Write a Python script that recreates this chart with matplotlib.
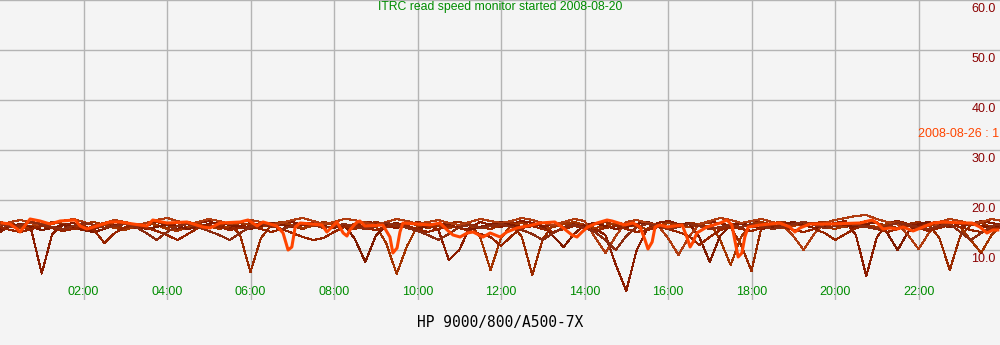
import numpy as np
import matplotlib.pyplot as plt

plt.rcParams['font.family'] = ['Liberation Sans', 'DejaVu Sans']

# 15 minute samples over one day, one series per day
hours = np.arange(0, 24.25, 0.25)

day1 = [13.6, 14.8, 15.2, 14.0, 5.3, 13.2, 15.0, 15.4, 14.6, 14.2, 15.0, 15.6,
        15.2, 14.4, 14.8, 15.6, 15.0, 14.2, 14.6, 15.4, 15.8, 15.0, 14.4, 14.8,
        15.4, 15.0, 14.6, 15.2, 15.6, 15.0, 14.8, 15.4, 15.2, 14.6, 15.0, 15.6,
        15.4, 14.8, 14.4, 15.0, 15.6, 15.2, 14.0, 8.0, 10.0, 14.5, 15.6, 15.0,
        14.6, 15.2, 15.8, 15.4, 14.8, 15.0, 15.6, 15.2, 14.6, 14.2, 13.0, 7.0,
        1.8, 10.0, 14.2, 15.4, 15.8, 15.2, 14.6, 15.0, 15.6, 15.4, 14.8, 15.2,
        15.8, 15.4, 15.0, 14.6, 15.2, 15.6, 15.2, 14.8, 15.4, 15.8, 13.0, 4.8,
        12.5, 15.4, 15.8, 15.2, 14.8, 15.4, 15.6, 15.0, 14.6, 15.2, 15.8, 15.4, 15.0]

day2 = [14.8, 15.4, 14.6, 14.2, 15.0, 15.6, 15.2, 14.4, 14.0, 14.8, 15.4, 15.0,
        14.2, 14.6, 15.4, 15.0, 14.4, 14.8, 15.6, 15.2, 14.6, 15.0, 15.4, 13.0,
        5.6, 12.4, 15.0, 15.4, 14.8, 14.2, 15.0, 15.6, 15.2, 14.6, 14.2, 15.0,
        15.6, 15.2, 14.8, 15.4, 15.0, 14.4, 14.8, 15.4, 15.6, 15.0, 14.6, 14.2,
        15.0, 15.4, 12.6, 5.0, 12.2, 15.0, 15.4, 14.8, 14.4, 15.2, 15.6, 15.0,
        14.6, 15.2, 15.6, 15.0, 14.4, 14.8, 15.4, 15.2, 14.6, 14.2, 14.6, 11.0,
        5.8, 15.0, 15.4, 15.6, 15.2, 14.8, 15.4, 15.6, 15.0, 14.6, 15.2, 15.8,
        15.4, 14.8, 14.4, 15.2, 15.6, 15.0, 12.4, 6.0, 12.8, 15.0, 15.4, 14.6, 14.8]

day3 = [15.6, 15.0, 14.4, 14.8, 15.2, 14.6, 14.0, 14.6, 15.2, 15.6, 15.0, 14.4,
        14.0, 14.8, 15.4, 15.0, 14.2, 13.8, 14.6, 15.2, 14.8, 14.2, 14.8, 15.4,
        15.0, 14.6, 15.2, 15.6, 15.0, 14.4, 14.8, 15.4, 15.0, 14.6, 15.2, 15.6,
        14.8, 11.4, 5.2, 10.8, 14.8, 15.4, 15.0, 14.4, 14.8, 15.2, 12.6, 6.0,
        12.4, 15.0, 15.4, 14.8, 14.2, 14.6, 15.2, 15.6, 15.0, 14.4, 14.8, 15.4,
        15.2, 14.6, 14.2, 14.8, 15.4, 15.0, 14.6, 15.2, 15.6, 12.0, 7.0, 12.6,
        15.2, 15.6, 15.0, 14.4, 14.8, 15.4, 15.2, 14.6, 14.2, 14.8, 15.4, 15.0,
        14.6, 15.2, 15.6, 15.0, 14.4, 14.8, 15.4, 15.0, 14.6, 12.0, 9.4, 13.0, 15.0]

day4 = [14.2, 14.8, 15.2, 14.6, 14.0, 14.4, 15.0, 14.6, 14.0, 13.6, 14.2, 15.0,
        15.4, 14.8, 14.2, 14.6, 15.2, 14.8, 14.2, 14.6, 15.2, 15.6, 15.0, 14.6,
        14.2, 14.8, 15.4, 15.0, 14.6, 15.2, 15.4, 14.8, 14.4, 15.0, 12.2, 7.6,
        12.8, 15.0, 15.4, 14.8, 14.2, 14.8, 15.2, 15.0, 14.4, 14.0, 14.6, 15.2,
        15.6, 15.0, 14.6, 15.2, 14.8, 12.8, 10.6, 13.2, 15.0, 15.4, 14.8, 14.2,
        14.6, 15.2, 15.6, 15.0, 14.6, 15.0, 15.4, 12.6, 7.6, 12.8, 15.0, 15.4,
        14.8, 14.2, 14.6, 15.2, 15.6, 15.0, 14.4, 14.8, 15.4, 15.0, 14.6, 15.2,
        15.6, 13.4, 10.0, 13.6, 15.2, 15.6, 15.0, 14.6, 15.2, 15.4, 14.8, 14.4, 14.8]

day5 = [15.0, 15.6, 16.0, 15.4, 14.8, 15.2, 15.8, 16.2, 15.6, 15.0, 15.4, 16.0,
        15.6, 15.0, 15.4, 16.0, 16.4, 15.8, 15.2, 15.6, 16.2, 15.8, 15.2, 15.6,
        16.0, 15.6, 15.0, 15.4, 16.0, 16.4, 15.8, 15.2, 15.6, 16.2, 16.0, 15.4,
        15.0, 15.6, 16.2, 15.8, 15.2, 15.6, 16.0, 15.4, 15.0, 15.6, 16.2, 15.8,
        15.4, 15.8, 16.4, 16.0, 15.4, 15.0, 15.6, 16.2, 15.8, 12.6, 9.4, 12.8,
        15.6, 16.0, 15.4, 15.0, 12.4, 9.0, 12.6, 15.2, 15.8, 16.4, 16.0, 15.4,
        15.8, 16.2, 15.6, 15.0, 12.8, 10.0, 13.2, 15.4, 16.0, 16.4, 16.8, 17.0,
        16.2, 15.6, 15.2, 13.0, 10.2, 13.4, 15.6, 16.2, 15.8, 15.2, 15.6, 16.2, 15.8]

day6 = [14.6, 14.0, 13.6, 14.2, 14.8, 14.4, 13.8, 14.2, 14.8, 14.0, 11.4, 13.4,
        14.6, 15.0, 14.4, 13.8, 13.0, 12.0, 13.2, 14.4, 15.0, 14.6, 14.0, 14.4,
        14.8, 14.2, 13.6, 14.2, 13.4, 12.6, 12.0, 12.4, 13.6, 14.6, 15.0, 14.4,
        14.0, 14.6, 15.2, 14.8, 14.2, 13.6, 14.2, 14.8, 14.4, 13.8, 13.2, 12.6,
        10.8, 12.8, 14.4, 14.8, 14.2, 13.6, 14.2, 14.8, 14.4, 13.8, 14.4, 14.8,
        14.2, 13.6, 14.0, 14.6, 14.2, 13.6, 12.8, 11.0, 12.6, 14.0, 14.6, 14.2,
        13.8, 14.4, 15.0, 14.6, 14.0, 13.6, 14.2, 13.4, 12.0, 13.2, 14.4, 14.8,
        14.2, 13.6, 14.2, 14.8, 14.4, 13.8, 14.4, 15.0, 14.6, 14.0, 13.6, 14.2, 14.6]

day7 = [15.2, 14.6, 15.0, 15.6, 15.2, 14.6, 14.2, 14.8, 15.4, 15.0, 14.4, 14.8,
        15.2, 14.6, 13.4, 12.0, 13.6, 14.8, 15.2, 14.6, 13.8, 13.0, 12.0, 13.4,
        14.6, 15.2, 14.8, 14.2, 14.8, 15.4, 15.0, 14.4, 14.8, 15.2, 14.6, 14.2,
        14.8, 15.4, 15.0, 14.4, 13.8, 13.0, 12.0, 13.2, 14.6, 15.0, 14.4, 14.8,
        15.2, 14.6, 14.0, 13.2, 12.0, 13.4, 14.6, 15.0, 14.4, 13.6, 12.0, 10.0,
        12.8, 14.6, 15.2, 14.8, 14.2, 14.6, 15.2, 14.8, 14.2, 14.6, 15.0, 14.6,
        15.2, 14.8, 14.2, 14.6, 15.2, 15.6, 15.0, 14.4, 14.8, 15.4, 15.0, 14.6,
        14.2, 14.8, 15.4, 15.0, 14.6, 14.2, 14.8, 15.2, 13.6, 12.0, 13.4, 14.8, 15.2]

# latest day (2008-08-26), read point by point
today_hours = [0.05, 0.24, 0.41, 0.48, 0.72, 0.96, 1.2, 1.44, 1.8, 1.92, 2.08, 2.32,
               2.63, 2.87, 3.19, 3.52, 3.66, 4.0, 4.48, 4.86, 5.03, 5.27, 5.75, 5.94,
               6.16, 6.3, 6.63, 6.78, 6.9, 6.99, 7.07, 7.19, 7.71, 7.83, 7.95, 8.07,
               8.22, 8.31, 8.38, 8.55, 8.62, 8.74, 9.17, 9.34, 9.41, 9.51, 9.58, 9.65,
               10.3, 10.54, 10.71, 10.85, 11.02, 11.19, 11.33, 11.57, 11.74, 11.98, 12.14, 12.38,
               12.74, 12.93, 13.29, 13.46, 13.7, 13.82, 13.94, 14.08, 14.3, 14.54, 14.66, 14.97,
               15.16, 15.33, 15.45, 15.52, 15.62, 15.69, 15.81, 15.98, 16.34, 16.46, 16.53, 16.6,
               16.69, 16.93, 17.25, 17.41, 17.53, 17.6, 17.68, 17.77, 17.84, 17.92, 18.2, 18.68,
               18.92, 19.04, 19.16, 19.4, 19.88, 20.6, 20.89, 21.01, 21.15, 21.32, 21.49, 21.63,
               21.87, 22.11, 22.35, 22.59, 23.07, 23.28, 23.47, 23.64, 23.78, 23.9]
today = [15.4, 15.2, 14.2, 13.6, 16.2, 15.8, 15.2, 15.8, 16.0, 14.8, 14.2, 14.8,
         15.6, 15.6, 15.2, 14.8, 16.0, 15.4, 15.6, 14.6, 14.4, 15.4, 15.6, 16.0,
         14.8, 15.6, 14.8, 13.4, 10.0, 10.6, 14.6, 15.4, 15.0, 13.6, 14.6, 15.6,
         13.4, 12.8, 14.0, 15.6, 15.8, 14.8, 15.0, 12.6, 9.4, 10.4, 13.6, 15.4,
         15.0, 15.4, 14.0, 13.0, 12.6, 13.4, 13.6, 12.6, 13.4, 12.6, 13.6, 14.4,
         15.0, 15.4, 15.6, 14.6, 13.0, 12.6, 13.6, 14.6, 15.4, 16.0, 15.8, 15.0,
         15.4, 14.6, 12.0, 10.2, 11.6, 14.6, 15.0, 14.6, 15.0, 12.4, 10.6, 11.6,
         13.4, 14.6, 15.4, 16.0, 15.0, 12.0, 8.6, 9.4, 12.6, 14.6, 15.0, 15.4,
         14.6, 13.6, 14.4, 15.2, 15.2, 15.4, 16.0, 15.4, 14.2, 14.4, 14.2, 14.6,
         13.8, 14.6, 15.4, 15.6, 15.4, 15.4, 14.6, 13.4, 14.0, 14.0]

past_days = [day1, day2, day3, day4, day5, day6, day7]
past_colors = ['#8b1c00', '#9a2a00', '#a33300', '#7f1a00', '#b03c10', '#962400', '#8c2c10']

tick_hours = [2, 4, 6, 8, 10, 12, 14, 16, 18, 20, 22]
tick_labels = ['02:00', '04:00', '06:00', '08:00', '10:00', '12:00',
               '14:00', '16:00', '18:00', '20:00', '22:00']
speed_levels = [10, 20, 30, 40, 50, 60]

bg = '#f4f4f4'
green = '#008c00'

fig = plt.figure(figsize=(10, 3.45), dpi=100)
fig.patch.set_facecolor(bg)
ax = fig.add_axes([0, 45 / 345, 1, 300 / 345])
ax.set_facecolor(bg)
for s in ax.spines.values():
    s.set_visible(False)

ax.set_xlim(0, 24 * 1000 / 1002)
ax.set_ylim(0, 60)
ax.set_xticks(tick_hours)
ax.set_yticks(speed_levels)
ax.tick_params(length=0, labelbottom=False, labelleft=False)
ax.grid(True, color='#b4b4b4', lw=1)
ax.set_axisbelow(True)

for vals, c in zip(past_days, past_colors):
    ax.plot(hours, vals, color=c, lw=0.8, antialiased=False)
ax.plot(today_hours, today, color='#ff4500', lw=2.2, zorder=5)

for h, lab in zip(tick_hours, tick_labels):
    ax.text(h, 8 / 300, lab, transform=ax.get_xaxis_transform(),
            ha='center', va='center', color=green, fontsize=9)

for v in speed_levels:
    ax.annotate(f'{v:.1f}', xy=(1, v), xycoords=ax.get_yaxis_transform(),
                xytext=(-3, -6.8), textcoords='offset points',
                ha='right', va='center', color='#8b0000', fontsize=9)

fig.text(0.5, 1 - 7 / 345, 'ITRC read speed monitor started 2008-08-20',
         ha='center', va='center', color=green, fontsize=8.8)
fig.text(0.918, 1 - 134 / 345, '2008-08-26 : 1', ha='left', va='center',
         color='#ff4500', fontsize=9)
fig.text(0.5, 1 - 323 / 345, 'HP 9000/800/A500-7X', family='DejaVu Sans Mono',
         ha='center', va='center', color='#000000', fontsize=10.5)

fig.savefig('out.png', dpi=100, facecolor=fig.get_facecolor())
